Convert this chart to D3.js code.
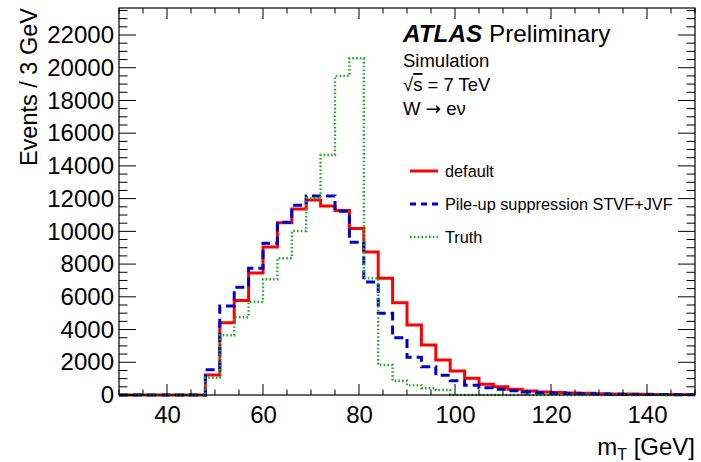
<!DOCTYPE html>
<html><head><meta charset="utf-8">
<script src="https://cdn.jsdelivr.net/npm/d3@7"></script>
<style>
html,body{margin:0;padding:0;background:#fff;}
svg{display:block;font-family:"Liberation Sans",Arial,Helvetica,sans-serif;}
</style></head>
<body><svg id="c" width="701" height="462"></svg>
<script>
// Bin lower edges (GeV), 3 GeV bins from 30 to 150
const binEdges = [30,33,36,39,42,45,48,51,54,57,60,63,66,69,72,75,78,81,84,87,90,93,96,99,102,105,108,111,114,117,120,123,126,129,132,135,138,141,144,147];
const binWidth = 3;
const seriesNames = ["default", "Pile-up suppression STVF+JVF", "Truth"];
const defaultVals = [0,0,0,0,0,0,1220,4420,5770,7460,9050,10530,11370,11920,11550,11270,10170,8740,7140,5640,4280,3060,2140,1470,1020,650,510,350,250,190,150,120,100,80,65,55,45,35,30,25];
const stvfVals    = [0,0,0,0,0,0,1550,5440,6580,7740,9270,10560,11600,12160,12160,11230,9330,6910,4990,3500,2300,1730,1200,875,590,450,350,265,180,140,110,90,70,55,45,38,30,25,20,15];
const truthVals   = [0,0,0,0,0,0,1050,3650,4750,5700,7070,8360,10020,12020,14670,19500,20580,7130,1830,875,590,410,305,0,0,0,0,0,0,0,0,0,0,0,0,0,0,0,0,0];
const xTickVals = [40,60,80,100,120,140];
const yTickVals = [0,2000,4000,6000,8000,10000,12000,14000,16000,18000,20000,22000];

const W = 701, H = 462;
const m = {left:119, right:6, top:8, bottom:67};
const iw = W - m.left - m.right, ih = H - m.top - m.bottom;
const svg = d3.select("#c");
const g = svg.append("g").attr("transform", `translate(${m.left},${m.top})`);

const x = d3.scaleLinear().domain([30,150]).range([0, iw]);
const y = d3.scaleLinear().domain([0,23650]).range([ih, 0]);

// Histograms
const styles = [
  {vals: defaultVals, color:"#ff0000", w:3, dash:null},
  {vals: stvfVals, color:"#0000cc", w:3, dash:"9,5"},
  {vals: truthVals, color:"#22aa22", w:2.4, dash:"1.6,2.2"}
];
const line = d3.line().x(d=>x(d[0])).y(d=>y(d[1])).curve(d3.curveStepAfter);
styles.forEach(s => {
  const pts = binEdges.map((e,i)=>[e, s.vals[i]]);
  pts.push([binEdges[binEdges.length-1] + binWidth, s.vals[s.vals.length-1]]);
  g.append("path").attr("d", line(pts)).attr("fill","none")
    .attr("stroke", s.color).attr("stroke-width", s.w)
    .attr("stroke-dasharray", s.dash);
});

// Axes
const fs = 24;
const xMinor = d3.range(30,151,5);
const yMinor = d3.range(0,23651,500);
const ax = g.append("g").attr("stroke","#000").attr("stroke-width",1);
g.append("rect").attr("x",0).attr("y",0).attr("width",iw).attr("height",ih)
  .attr("fill","none").attr("stroke","#000").attr("stroke-width",1.2);
xMinor.forEach(v => {
  const L = (v % 20 === 0) ? 11 : 5.5;
  ax.append("line").attr("x1",x(v)).attr("x2",x(v)).attr("y1",ih).attr("y2",ih-L);
  ax.append("line").attr("x1",x(v)).attr("x2",x(v)).attr("y1",0).attr("y2",L);
});
yMinor.forEach(v => {
  const L = (v % 2000 === 0) ? 17 : 8.5;
  ax.append("line").attr("x1",0).attr("x2",L).attr("y1",y(v)).attr("y2",y(v));
  ax.append("line").attr("x1",iw).attr("x2",iw-L).attr("y1",y(v)).attr("y2",y(v));
});
const xAxis = d3.axisBottom(x).tickValues(xTickVals).tickSize(0).tickPadding(11);
const xa = g.append("g").attr("transform",`translate(0,${ih})`).call(xAxis);
xa.select(".domain").remove();
xa.selectAll("text").attr("font-size",fs).attr("font-family","Liberation Sans, Arial, sans-serif").attr("fill","#000");
const yAxis = d3.axisLeft(y).tickValues(yTickVals).tickSize(0).tickPadding(5).tickFormat(d3.format("d"));
const ya = g.append("g").call(yAxis);
ya.select(".domain").remove();
ya.selectAll("text").attr("font-size",fs).attr("font-family","Liberation Sans, Arial, sans-serif").attr("fill","#000");

// Axis titles
const xt = svg.append("text").attr("x",695).attr("y",455).attr("text-anchor","end").attr("font-size",fs);
xt.append("tspan").text("m");
xt.append("tspan").attr("font-size",16).attr("dy",5).text("T");
xt.append("tspan").attr("dy",-5).text(" [GeV]");
svg.append("text").attr("transform","translate(37,8) rotate(-90)").attr("text-anchor","end")
  .attr("font-size",23.5).text("Events / 3 GeV");

// ATLAS label
const at = svg.append("text").attr("x",403).attr("y",42).attr("font-size",24.3);
at.append("tspan").attr("font-weight","bold").attr("font-style","italic").text("ATLAS");
at.append("tspan").text(" Preliminary");
const tfs = 18.5;
svg.append("text").attr("x",403).attr("y",67).attr("font-size",tfs).text("Simulation");
const rs = svg.append("text").attr("x",403).attr("y",91).attr("font-size",tfs);
rs.append("tspan").text("\u221A");
rs.append("tspan").attr("text-decoration","overline").text("s");
rs.append("tspan").text(" = 7 TeV");
const wt = svg.append("text").attr("x",403).attr("y",115).attr("font-size",tfs);
wt.append("tspan").text("W ");
wt.append("tspan").attr("font-family","DejaVu Sans").text("\u2192");
wt.append("tspan").text(" e\u03BD");

// Legend
const legY = [171, 204, 237];
styles.forEach((s,i) => {
  svg.append("line").attr("x1",410).attr("x2",438).attr("y1",legY[i]).attr("y2",legY[i])
    .attr("stroke",s.color).attr("stroke-width",s.w).attr("stroke-dasharray", i===1 ? "6,5" : s.dash);
  svg.append("text").attr("x",445).attr("y",legY[i]).attr("dy","0.35em").attr("font-size",16.3).text(seriesNames[i]);
});
</script></body></html>
